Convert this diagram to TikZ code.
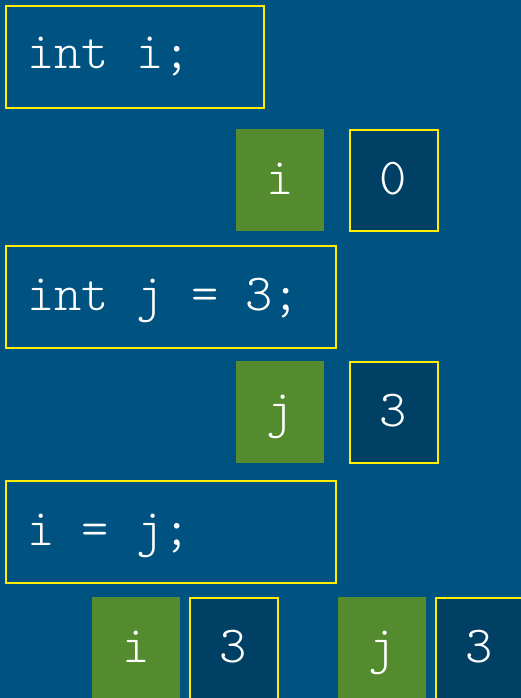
\documentclass[tikz,border=0pt]{standalone}
\usepackage{fontspec}
\newfontfamily\codefont{Latin Modern Mono Light}
\usetikzlibrary{positioning}
\definecolor{bgblue}{RGB}{0,83,128}
\definecolor{darkbox}{RGB}{0,64,100}
\definecolor{vargreen}{RGB}{84,139,46}
\definecolor{outline}{RGB}{255,238,0}
\tikzset{
  codebox/.style={draw=outline, line width=2pt, inner sep=0pt, anchor=north west, minimum height=102pt},
  codetext/.style={anchor=base west, text=white, inner sep=0pt, font=\fontsize{52}{62}\selectfont\codefont},
  namebox/.style={fill=vargreen, inner sep=0pt, minimum width=88pt, minimum height=102pt, text height=28pt, text depth=0pt, text=white, font=\fontsize{52}{62}\selectfont\codefont},
  valbox/.style={fill=darkbox, draw=outline, line width=2pt, inner sep=0pt, minimum width=88pt, minimum height=101pt, text height=28pt, text depth=0pt, text=white, font=\fontsize{52}{62}\selectfont\codefont}
}
\begin{document}
\begin{tikzpicture}[x=1pt,y=-1pt]
\fill[bgblue] (0,0) rectangle (521,698);
\useasboundingbox (0,0) rectangle (521,698);
% statement 1
\node[codebox, minimum width=258pt] (s1) at (5,5) {};
\node[codetext] (t1) at (27,69) {int i;};
\node[namebox] (n1) at (280,180) {i};
\node[valbox] (v1) at (393.5,180) {0};
% statement 2
\node[codebox, minimum width=330pt] (s2) at (5,245) {};
\node[codetext] (t2) at (27,310) {int j = 3;};
\node[namebox] (n2) at (280,412) {j};
\node[valbox] (v2) at (393.5,412) {3};
% statement 3
\node[codebox, minimum width=330pt] (s3) at (5,480) {};
\node[codetext] (t3) at (27,545) {i = j;};
\node[namebox] (n3) at (136,648) {i};
\node[valbox] (v3) at (233.5,648) {3};
\node[namebox] (n4) at (382,648) {j};
\node[valbox] (v4) at (479.5,648) {3};
\end{tikzpicture}
\end{document}
